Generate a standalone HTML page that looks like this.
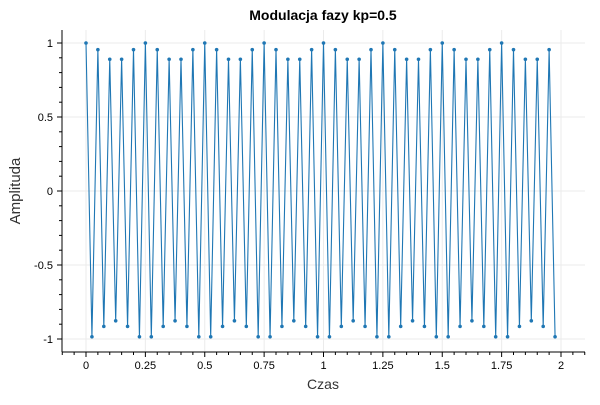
<!DOCTYPE html>
<html><head><meta charset="utf-8"><style>
body{margin:0;background:#fff}
svg text{font-family:"Liberation Sans",sans-serif}
</style></head><body>
<svg id="c" width="600" height="400"></svg>
<script>
const pattern=[1,-0.985,0.955,-0.915,0.89,-0.877,0.89,-0.915,0.955,-0.985];
const times=[];const values=[];
for(let i=0;i<80;i++){times.push(i*0.025);values.push(pattern[i%10]);}
const xTicks=[0,0.25,0.5,0.75,1,1.25,1.5,1.75,2];
const xTickLabels=["0","0.25","0.5","0.75","1","1.25","1.5","1.75","2"];
const yTicks=[-1,-0.5,0,0.5,1];
const yTickLabels=["-1","-0.5","0","0.5","1"];
const L=62,R=585,T=30,B=352;
const X=t=>86+t*237.5;
const Y=v=>191-v*148;
const svg=document.getElementById('c');
const NS='http://www.w3.org/2000/svg';
function mk(tag,attrs,parent){const e=document.createElementNS(NS,tag);for(const k in attrs)e.setAttribute(k,attrs[k]);(parent||svg).appendChild(e);return e;}
// grid
xTicks.forEach(t=>{const g=mk('line',{x1:X(t),x2:X(t),y1:T,y2:B,stroke:'#ebebeb'});});
yTicks.forEach(v=>{const g=mk('line',{x1:L,x2:R,y1:Y(v),y2:Y(v),stroke:'#ebebeb'});});
// axes
const ax=mk('line',{x1:L,x2:R,y1:B,y2:B,stroke:'#000'});
const ay=mk('line',{x1:L,x2:L,y1:T,y2:B,stroke:'#000'});
for(let i=-2;i<=42;i++){const t=i*0.05;const x=X(t);if(x<L||x>R)continue;const major=i%5===0;mk('line',{x1:x,x2:x,y1:B,y2:B+(major?5:3),stroke:'#000'});}
for(let i=-10;i<=10;i++){const v=i*0.1;const y=Y(v);if(y<T||y>B)continue;const major=i%5===0;mk('line',{x1:L,x2:L-(major?5:3),y1:y,y2:y,stroke:'#000'});}
xTicks.forEach((t,i)=>{const e=mk('text',{x:X(t),y:B+17,'font-size':11,'text-anchor':'middle'});e.textContent=xTickLabels[i];});
yTicks.forEach((v,i)=>{const e=mk('text',{x:L-9,y:Y(v)+4,'font-size':11,'text-anchor':'end'});e.textContent=yTickLabels[i];});
// line
const pts=times.map((t,i)=>X(t)+','+Y(values[i])).join(' ');
const pl=mk('polyline',{points:pts,fill:'none',stroke:'#1f77b4','stroke-width':1.1});

times.forEach((t,i)=>{const c=mk('circle',{cx:X(t),cy:Y(values[i]),r:1.8,fill:'#1f77b4'});});
// labels
const ti=mk('text',{x:323,y:20,'font-size':14,'font-weight':'bold','text-anchor':'middle'});ti.textContent='Modulacja fazy kp=0.5';
const xl=mk('text',{x:323,y:389,'font-size':14,'text-anchor':'middle',fill:'#333'});xl.textContent='Czas';
const yl=mk('text',{x:20,y:191,'font-size':15,'text-anchor':'middle',fill:'#333',transform:'rotate(-90 20 191)'});yl.textContent='Amplituda';
</script>
</body></html>
